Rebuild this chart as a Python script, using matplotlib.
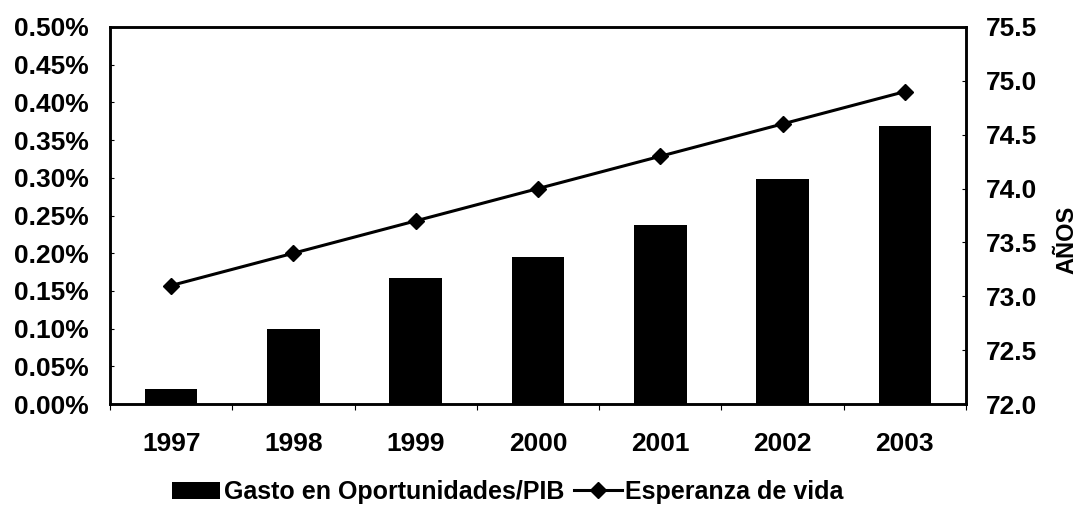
import numpy as np
import matplotlib.pyplot as plt
from matplotlib.ticker import FuncFormatter

plt.rcParams['font.family'] = ['Liberation Sans', 'DejaVu Sans']
plt.rcParams['font.weight'] = 'bold'

years = ['1997', '1998', '1999', '2000', '2001', '2002', '2003']
gasto = [0.020, 0.100, 0.167, 0.195, 0.237, 0.298, 0.369]  # % del PIB
esperanza = [73.1, 73.4, 73.7, 74.0, 74.3, 74.6, 74.9]

fig = plt.figure(figsize=(10.76, 5.2), dpi=100)
ax = fig.add_axes([110/1076, 1 - 404/520, (966-110)/1076, (404-27)/520])
x = np.arange(len(years))

bars = ax.bar(x, gasto, width=0.43, color='black', label='Gasto en Oportunidades/PIB')
ax.set_xlim(-0.5, len(years) - 0.5)
ax.set_ylim(0, 0.5)
ax.set_yticks(np.arange(0, 0.501, 0.05))
ax.yaxis.set_major_formatter(FuncFormatter(lambda v, p: f'{v:.2f}%'))
ax.set_xticks(x)
ax.set_xticklabels(years)
ax.set_xticks(np.arange(-0.5, len(years)), minor=True)
ax.tick_params(axis='x', which='major', length=0, pad=20, labelsize=19)
ax.tick_params(axis='x', which='minor', length=4, width=0.8)
ax.tick_params(axis='y', length=3, direction='in', labelsize=19, pad=15)

ax2 = ax.twinx()
line, = ax2.plot(x, esperanza, color='black', lw=2.2, marker='D', markersize=8,
                 label='Esperanza de vida')
ax2.set_ylim(72.0, 75.5)
ax2.set_yticks(np.arange(72.0, 75.51, 0.5))
ax2.yaxis.set_major_formatter(FuncFormatter(lambda v, p: f'{v:.1f}'))
ax2.tick_params(axis='y', length=3, direction='in', labelsize=19, pad=14)
ax2.set_ylabel('AÑOS', fontsize=17, fontweight='bold')
ax2.yaxis.set_label_coords(1.104, 0.435)

for a in (ax, ax2):
    for s in a.spines.values():
        s.set_linewidth(1.8)

fig.legend([bars, line], ['Gasto en Oportunidades/PIB', 'Esperanza de vida'],
           loc='center', bbox_to_anchor=(508/1076, 1 - 492/520), ncol=2, frameon=False,
           fontsize=18, handlelength=1.9, handletextpad=0.15, columnspacing=0.4)

fig.savefig('out.png', dpi=100)
